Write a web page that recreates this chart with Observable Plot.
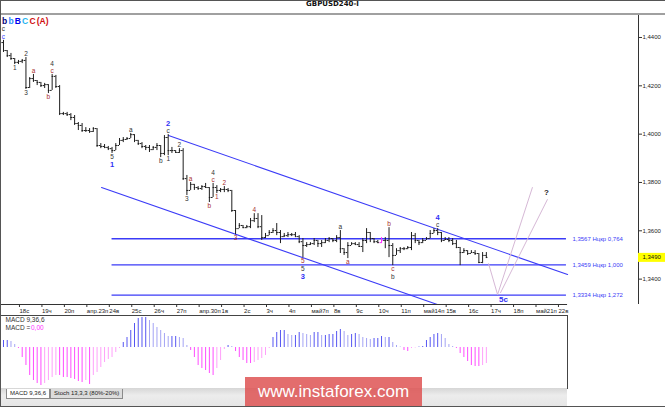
<!DOCTYPE html>
<html>
<head>
<meta charset="utf-8">
<script src="https://cdn.jsdelivr.net/npm/d3@7"></script>
<script src="https://cdn.jsdelivr.net/npm/@observablehq/plot@0.6"></script>
<style>
  html, body { margin: 0; padding: 0; background: #fff; }
  #wrap { position: relative; width: 665px; height: 407px; overflow: hidden; background: #fff; font-family: "Liberation Sans", Arial, sans-serif; }
  #title { position: absolute; left: 0; top: 0; width: 665px; height: 13px; line-height: 14px; text-align: center;
           font: bold 7px "DejaVu Sans", sans-serif; color: #111; border-bottom: 2px solid #a0a0a0; }
  #main { position: absolute; left: 0; top: 15px; }
  #macd { position: absolute; left: 0; top: 315px; }
  #tabs { position: absolute; left: 1px; top: 388px; width: 566px; height: 18px; background: linear-gradient(#d6d6d6, #ececec 40%, #e6e6e6); }
  .tab { position: absolute; top: 1px; height: 9px; line-height: 9px; font-size: 6px; color: #222; padding: 0 3px; border: 1px solid #8a8a8a; border-top: none; }
  #wm { position: absolute; left: 245px; top: 377px; width: 177px; height: 30px; background: rgba(222, 84, 84, 0.85);
        color: #fff; font: 17px "Liberation Sans", Arial, sans-serif; line-height: 30px; text-align: center; }
  #frame { position: absolute; left: 0; top: 0; width: 665px; height: 407px; box-sizing: border-box; border: 1px solid #555; border-right: none; pointer-events: none; }
</style>
</head>
<body>
<div id="wrap">
  <div id="title">GBPUSD240-I</div>
  <div id="main"></div>
  <div id="macd"></div>
  <div id="tabs">
    <div class="tab" style="left:5px;background:#fff;">MACD 9,36,6</div>
    <div class="tab" style="left:49px;background:#dcdcdc;">Stoch 13,3,3 (80%-20%)</div>
  </div>
  <div id="wm">www.instaforex.com</div>
  <div id="frame"></div>
</div>
<script>
// 4H bars, 17 Apr 08:00 .. 16 May 20:00
const firstOpen = 1.4379;
const high = [1.4388,1.4346,1.4334,1.4313,1.4305,1.4309,1.4317,1.4234,1.4247,1.4222,
  1.4214,1.4210,1.4205,1.4247,1.4243,1.4201,1.4090,1.4090,1.4085,1.4077,
  1.4048,1.4044,1.4027,1.4023,1.4027,1.4023,1.3961,1.3957,1.3949,1.3945,
  1.3961,1.3982,1.3986,1.3986,1.4003,1.3998,1.3974,1.3965,1.3953,1.3953,
  1.3949,1.3961,1.3953,1.3994,1.3998,1.3945,1.3932,1.3940,1.3940,1.3829,
  1.3800,1.3792,1.3783,1.3787,1.3796,1.3779,1.3796,1.3787,1.3775,1.3783,
  1.3775,1.3767,1.3684,1.3630,1.3622,1.3622,1.3651,1.3671,1.3671,1.3663,
  1.3589,1.3601,1.3609,1.3630,1.3601,1.3589,1.3593,1.3589,1.3593,1.3580,
  1.3568,1.3551,1.3551,1.3568,1.3560,1.3560,1.3568,1.3572,1.3568,1.3580,
  1.3601,1.3526,1.3551,1.3551,1.3551,1.3551,1.3568,1.3609,1.3593,1.3568,
  1.3560,1.3572,1.3572,1.3613,1.3547,1.3526,1.3531,1.3531,1.3535,1.3593,
  1.3589,1.3560,1.3568,1.3572,1.3601,1.3609,1.3609,1.3593,1.3572,1.3572,
  1.3568,1.3560,1.3531,1.3526,1.3518,1.3518,1.3518,1.3506,1.3510,1.3510];
const low = [1.4338,1.4317,1.4305,1.4288,1.4288,1.4292,1.4185,1.4189,1.4214,1.4201,
  1.4193,1.4189,1.4168,1.4181,1.4189,1.4077,1.4077,1.4073,1.4056,1.4036,
  1.4015,1.4007,1.4007,1.4003,1.4007,1.3945,1.3940,1.3940,1.3932,1.3920,
  1.3932,1.3953,1.3965,1.3974,1.3982,1.3965,1.3953,1.3940,1.3932,1.3924,
  1.3932,1.3932,1.3903,1.3911,1.3911,1.3920,1.3920,1.3920,1.3808,1.3746,
  1.3767,1.3767,1.3767,1.3767,1.3775,1.3717,1.3738,1.3754,1.3758,1.3758,
  1.3758,1.3676,1.3584,1.3609,1.3609,1.3609,1.3609,1.3634,1.3609,1.3560,
  1.3568,1.3580,1.3589,1.3580,1.3547,1.3572,1.3572,1.3576,1.3572,1.3547,
  1.3489,1.3531,1.3539,1.3539,1.3531,1.3531,1.3547,1.3551,1.3551,1.3551,
  1.3506,1.3498,1.3485,1.3539,1.3539,1.3531,1.3510,1.3547,1.3551,1.3547,
  1.3547,1.3547,1.3526,1.3489,1.3456,1.3498,1.3506,1.3518,1.3522,1.3518,
  1.3547,1.3539,1.3547,1.3560,1.3568,1.3589,1.3580,1.3551,1.3560,1.3551,
  1.3539,1.3526,1.3456,1.3506,1.3498,1.3506,1.3498,1.3464,1.3464,1.3485];
const close = [1.4346,1.4325,1.4313,1.4297,1.4301,1.4305,1.4193,1.4230,1.4222,1.4214,
  1.4201,1.4205,1.4181,1.4239,1.4197,1.4085,1.4085,1.4081,1.4069,1.4044,
  1.4036,1.4015,1.4015,1.4011,1.4023,1.3953,1.3949,1.3945,1.3940,1.3932,
  1.3953,1.3974,1.3978,1.3982,1.3998,1.3974,1.3961,1.3949,1.3945,1.3936,
  1.3945,1.3953,1.3920,1.3986,1.3932,1.3932,1.3924,1.3932,1.3816,1.3767,
  1.3792,1.3779,1.3775,1.3783,1.3779,1.3738,1.3779,1.3767,1.3771,1.3771,
  1.3767,1.3684,1.3609,1.3622,1.3613,1.3617,1.3642,1.3651,1.3617,1.3572,
  1.3580,1.3593,1.3601,1.3593,1.3576,1.3580,1.3584,1.3584,1.3576,1.3555,
  1.3539,1.3543,1.3547,1.3560,1.3547,1.3551,1.3560,1.3568,1.3560,1.3572,
  1.3526,1.3510,1.3539,1.3547,1.3543,1.3535,1.3560,1.3593,1.3568,1.3555,
  1.3551,1.3560,1.3560,1.3539,1.3498,1.3518,1.3526,1.3526,1.3531,1.3580,
  1.3560,1.3551,1.3560,1.3568,1.3589,1.3601,1.3593,1.3560,1.3564,1.3560,
  1.3547,1.3531,1.3510,1.3518,1.3506,1.3510,1.3506,1.3469,1.3498,1.3490];
// MACD 9,36,6 histogram, one value per bar
const macd = [0.0007,0.0007,0.0006,0.0003,-0.0001,-0.0010,-0.0018,-0.0028,-0.0033,-0.0036,
  -0.0038,-0.0036,-0.0033,-0.0030,-0.0028,-0.0028,-0.0030,-0.0030,-0.0031,-0.0032,
  -0.0034,-0.0035,-0.0033,-0.0037,-0.0028,-0.0025,-0.0020,-0.0015,-0.0012,-0.0010,
  -0.0005,-0.0001,0.0005,0.0010,0.0017,0.0024,0.0029,0.0030,0.0030,0.0027,
  0.0024,0.0020,0.0017,0.0014,0.0011,0.0011,0.0011,0.0010,0.0009,0.0002,
  -0.0003,-0.0010,-0.0018,-0.0021,-0.0023,-0.0026,-0.0028,-0.0021,-0.0013,-0.0002,
  0.0002,0.0001,-0.0004,-0.0010,-0.0013,-0.0016,-0.0016,-0.0015,-0.0013,-0.0011,
  -0.0008,-0.0001,0.0010,0.0015,0.0017,0.0017,0.0013,0.0012,0.0012,0.0015,
  0.0014,0.0013,0.0012,0.0015,0.0015,0.0012,0.0012,0.0013,0.0013,0.0016,
  0.0018,0.0016,0.0012,0.0013,0.0014,0.0013,0.0010,0.0009,0.0008,0.0009,
  0.0009,0.0011,0.0010,0.0010,0.0005,0.0002,0.00005,-0.0003,-0.0004,-0.0001,
  -0.00005,0.00005,0.0001,0.0007,0.0010,0.0013,0.0014,0.0013,0.0009,0.0003,
  0.0001,-0.0001,-0.0006,-0.0010,-0.0014,-0.0018,-0.0019,-0.0019,-0.0018,-0.0016];

const dayLabels = ["18с","19ч","20п","апр.23п","24в","25с","26ч","27п","апр.30п","1в","2с","3ч","4п",
  "май7п","8в","9с","10ч","11п","май14п","15в","16с","17ч","18п","май21п","22в"];
const firstDayBar = 4, barsPerDay = 6;
const priceTicks = [1.34, 1.36, 1.38, 1.40, 1.42, 1.44];

const levels = [1.3567, 1.3459, 1.3334];
const levelRatios = ["0,764", "1,000", "1,272"];
const levelStart = 29, levelEnd = 150.4;

const channelUpper = [{bar: 44.1, price: 1.3994}, {bar: 150.7, price: 1.3419}];
const channelLower = [{bar: 26.2, price: 1.3779}, {bar: 115.9, price: 1.3295}];
const projA = [{bar: 129.6, price: 1.3464}, {bar: 132.0, price: 1.3336}, {bar: 141.3, price: 1.3779}];
const projB = [{bar: 132.8, price: 1.3344}, {bar: 145.3, price: 1.3729}];

const headTokens = [["b","#00007a"],["b","#2a8cff"],["B","#0000ee"],["C","#1eb4f0"],["C","#d01010"],["(A)","#d01010"]];
const waveLabels = [
  [0,"high",0,"c","lblue"],[0,"high",1,"c","dark"],
  [3,"low",0,"1","dark"],[6,"high",0,"2","dark"],[6,"low",0,"3","dark"],
  [8,"high",0,"a","red"],[12,"low",0,"b","red"],[13,"high",0,"c","red"],[13,"high",1,"4","dark"],
  [29,"low",0,"5","dark"],[29,"low",1,"1","blue"],[34,"high",0,"a","dark"],[42,"low",0,"b","dark"],
  [44,"high",0,"c","dark"],[44,"high",1,"2","blue"],[44,"low",0,"1","dark"],[47,"high",0,"2","dark"],
  [49,"low",0,"3","dark"],[50,"high",0,"a","red"],[55,"low",0,"b","red"],[56,"high",0,"c","red"],
  [56,"high",1,"4","dark"],[57,"low",0,"1","red"],[59,"high",0,"2","red"],[62,"low",0,"3","red"],
  [67,"high",0,"4","red"],[80,"low",0,"5","red"],[80,"low",1,"5","dark"],[80,"low",2,"3","blue"],
  [90,"high",0,"a","dark"],[92,"low",0,"a","red"],[103,"high",0,"b","red"],[104,"low",0,"c","red"],
  [104,"low",1,"b","dark"],[116,"high",0,"c","dark"],[116,"high",1,"4","blue"]
].map(([bar, side, rank, text, tone]) => ({bar, side, rank, text, tone}));
const markedBar = 101;

const BLUE = "#3b3bf7";
const tones = {dark: "#333333", red: "#a83030", blue: "#2f2ff5", lblue: "#3a3aff"};
const FONT = "Liberation Sans, Arial, sans-serif";
const fmt = d => d.toFixed(4).replace(".", ",");

const bars = high.map((h, i) => ({i, high: h, low: low[i], close: close[i], open: i ? close[i - 1] : firstOpen}));

const xMin = -0.8, xMax = 169.65;
const yDom = [1.3295, 1.4491];
const innerH = 289;
const pxPrice = (yDom[1] - yDom[0]) / innerH;
const pxBar = 638 / (xMax - xMin);

const rankOffset = r => 3.5 + 7.5 * r;
const labelY = d => {
  const off = rankOffset(d.rank) * pxPrice;
  return d.side === "high" ? bars[d.bar].high + off : bars[d.bar].low - off;
};

const dayTicks = dayLabels.map((_, k) => firstDayBar + barsPerDay * k);

// header tokens laid out by measured width
const ctx = document.createElement("canvas").getContext("2d");
ctx.font = "bold 8.5px " + FONT;
let acc = -1.5;
const headMarks = headTokens.map(([t, c]) => {
  const m = Plot.text([t], {x: 0, y: bars[0].high + (rankOffset(2) + 1) * pxPrice, text: d => d, fill: c,
    fontSize: 8.5, fontWeight: "bold", fontFamily: FONT, textAnchor: "start", dx: acc});
  acc += ctx.measureText(t).width + 1.2;
  return m;
});

const small = waveLabels.filter(d => d.tone !== "blue");
const big = waveLabels.filter(d => d.tone === "blue");

const main = Plot.plot({
  width: 665, height: innerH + 12,
  marginTop: 0, marginBottom: 12, marginLeft: 0, marginRight: 27,
  x: {domain: [xMin, xMax], axis: null},
  y: {domain: yDom, axis: null},
  color: {type: "identity"},
  style: {fontFamily: FONT, background: "transparent", overflow: "visible"},
  marks: [
    Plot.ruleY(levels, {y: d => d, x1: levelStart, x2: levelEnd, stroke: BLUE, strokeWidth: 1.3}),
    Plot.text(levels, {x: levelEnd, y: d => d, text: (d, i) => `${fmt(d)} Нцкр ${levelRatios[i]}`,
      textAnchor: "start", dx: 6, fontSize: 6, fill: BLUE}),
    Plot.line(channelUpper, {x: "bar", y: "price", stroke: BLUE, strokeWidth: 1.1}),
    Plot.line(channelLower, {x: "bar", y: "price", stroke: BLUE, strokeWidth: 1.1}),
    Plot.line(projA, {x: "bar", y: "price", stroke: "#d6b8d6", strokeWidth: 1}),
    Plot.line(projB, {x: "bar", y: "price", stroke: "#d6b8d6", strokeWidth: 1}),
    Plot.ruleX(bars, {x: "i", y1: "low", y2: "high", stroke: d => d.i === markedBar ? "#ff30ff" : "#1e1e1e", strokeWidth: 1}),
    Plot.ruleY(bars, {y: "open", x1: d => d.i - 1.6 / pxBar, x2: "i", stroke: d => d.i === markedBar ? "#ff30ff" : "#1e1e1e", strokeWidth: 1}),
    Plot.ruleY(bars, {y: "close", x1: "i", x2: d => d.i + 1.6 / pxBar, stroke: d => d.i === markedBar ? "#ff30ff" : "#1e1e1e", strokeWidth: 1}),
    Plot.text(small, {x: "bar", y: labelY, text: "text", fill: d => tones[d.tone], fontSize: 6.5, fontFamily: FONT}),
    Plot.text(big, {x: "bar", y: labelY, text: "text", fill: d => tones[d.tone], fontSize: 7.5, fontWeight: "bold", fontFamily: FONT}),
    ...headMarks,
    Plot.text([projA[1]], {x: "bar", y: "price", text: () => "5c", dx: 6, dy: 5, fill: tones.blue,
      fontSize: 8, fontWeight: "bold"}),
    Plot.text([projB[1]], {x: "bar", y: "price", text: () => "?", dx: -1, dy: -7, fill: "#222",
      fontSize: 8, fontWeight: "bold"}),
    Plot.ruleY([yDom[0]], {x1: xMin, x2: dayTicks[dayTicks.length - 1] + 2.7, stroke: "#333"}),
    Plot.axisX({ticks: dayTicks, tickFormat: d => dayLabels[(d - firstDayBar) / barsPerDay],
      tickSize: 3, tickPadding: 1, textAnchor: "start", dx: 1, fontSize: 6, fill: "#222", stroke: "#333"}),
    Plot.ruleX([xMax], {stroke: "#333"}),
    Plot.axisY({anchor: "right", ticks: priceTicks, tickFormat: fmt, tickSize: 3, tickPadding: 1,
      fontSize: 6, fill: "#222", stroke: "#333"}),
    Plot.ruleY([close[close.length - 1]], {x1: xMax, x2: xMax + 27 / pxBar, stroke: "#ffff00", strokeWidth: 9}),
    Plot.text([close[close.length - 1]], {x: xMax, y: d => d, text: fmt, textAnchor: "start", dx: 4,
      fontSize: 6, fill: "#111"})
  ]
});
document.getElementById("main").append(main);

// MACD panel
const macdRows = macd.map((v, i) => {
  const prev = i ? macd[i - 1] : v;
  const col = v >= 0 ? (v >= prev ? "#5656f2" : "#a4a4f4") : (v <= prev ? "#ff4cff" : "#ffa0fa");
  return {i, v, col};
});
const macdPlot = Plot.plot({
  width: 665, height: 73,
  marginTop: 0, marginBottom: 0, marginLeft: 0, marginRight: 98,
  x: {domain: [xMin, xMin + 567 / pxBar], axis: null},
  y: {domain: [-0.0041, 0.0032], axis: null},
  color: {type: "identity"},
  style: {fontFamily: FONT, background: "transparent", overflow: "visible"},
  marks: [
    Plot.ruleX(macdRows, {x: "i", y1: 0, y2: "v", stroke: "col", strokeWidth: 1}),
    Plot.frame({stroke: "#444"}),
    Plot.text(["MACD 9,36,6"], {frameAnchor: "top-left", text: d => d, dx: 5, dy: 4, fontSize: 6.5, fill: "#333", lineAnchor: "middle"}),
    Plot.text(["MACD ="], {frameAnchor: "top-left", text: d => d, dx: 5, dy: 12.5, fontSize: 6.5, fill: "#333", lineAnchor: "middle"}),
    Plot.text(["0,00"], {frameAnchor: "top-left", text: d => d, dx: 30.5, dy: 12.5, fontSize: 6.5, fill: "#ff30ff", lineAnchor: "middle"})
  ]
});
document.getElementById("macd").append(macdPlot);
</script>
</body>
</html>
